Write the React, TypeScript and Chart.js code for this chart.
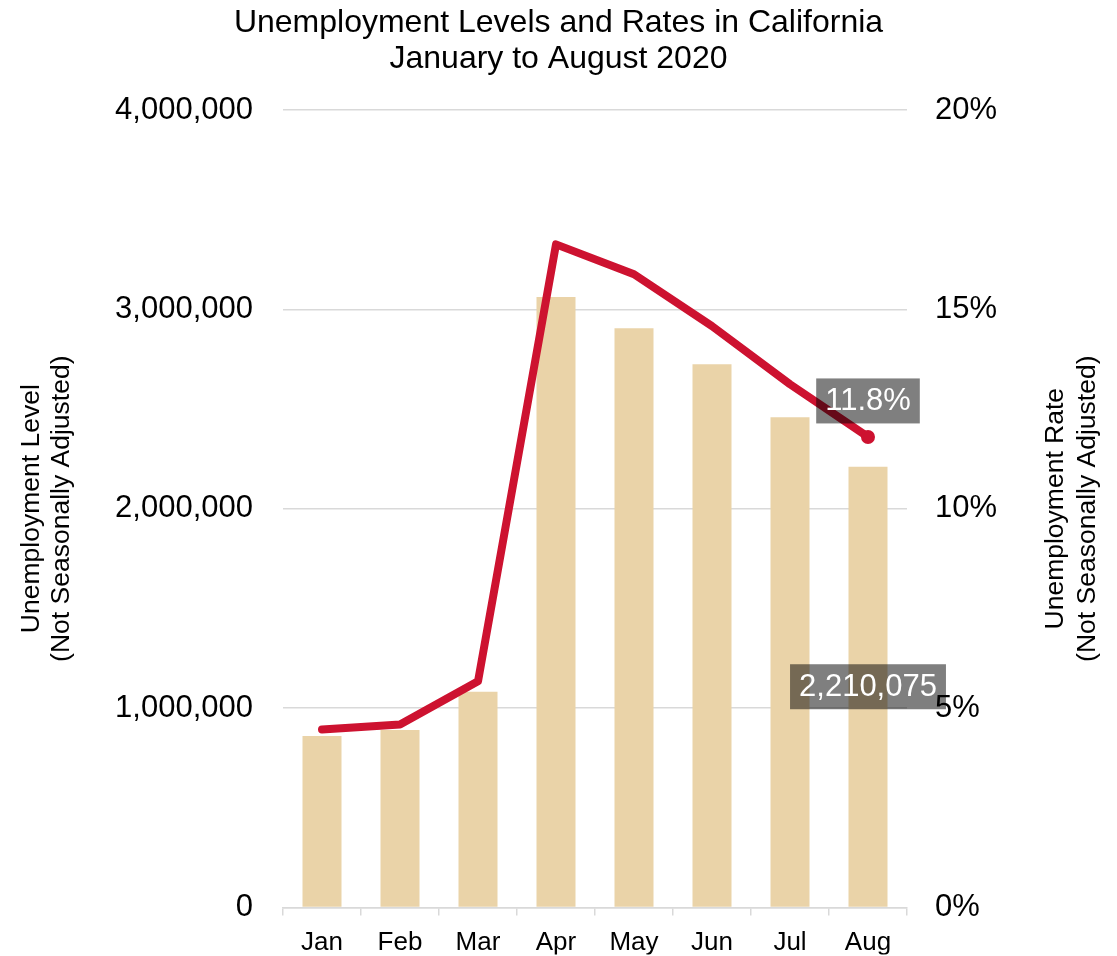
import React, { useEffect, useRef } from "react";
import { Chart, registerables } from "chart.js";

Chart.register(...registerables);

const titleLines = ["Unemployment Levels and Rates in California", "January to August 2020"];
const months = ["Jan", "Feb", "Mar", "Apr", "May", "Jun", "Jul", "Aug"];
const unemploymentLevel = [860000, 890000, 1082000, 3062000, 2905000, 2725000, 2459000, 2210075];
const unemploymentRate = [4.46, 4.59, 5.67, 16.63, 15.88, 14.58, 13.12, 11.8];
const leftAxisTitle = ["Unemployment Level", "(Not Seasonally Adjusted)"];
const rightAxisTitle = ["Unemployment Rate", "(Not Seasonally Adjusted)"];
const levelTicks = [0, 1000000, 2000000, 3000000, 4000000];
const rateTicks = [0, 5, 10, 15, 20];

const FONT = "'Liberation Sans', Arial, sans-serif";
const BAR_COLOR = "#EAD3A8";
const LINE_COLOR = "#CD1230";
const GRID_COLOR = "#D9D9D9";

const fmtLevel = (v: number) => Number(v).toLocaleString("en-US");

const decorPlugin = {
  id: "decor",
  afterDatasetsDraw(chart: any) {
    const ctx = chart.ctx;
    const area = chart.chartArea;
    const midY = (area.top + area.bottom) / 2;
    ctx.save();
    // axis titles
    ctx.fillStyle = "#000";
    ctx.font = `26.5px ${FONT}`;
    ctx.textAlign = "center";
    ctx.textBaseline = "middle";
    const drawRot = (text: string, x: number) => {
      ctx.save();
      ctx.translate(x, midY);
      ctx.rotate(-Math.PI / 2);
      ctx.fillText(text, 0, 0);
      ctx.restore();
    };
    drawRot(leftAxisTitle[0], 32);
    drawRot(leftAxisTitle[1], 62);
    drawRot(rightAxisTitle[0], 1056);
    drawRot(rightAxisTitle[1], 1088);

    // data labels for last point
    const last = months.length - 1;
    const lineMeta = chart.getDatasetMeta(1);
    const barMeta = chart.getDatasetMeta(0);
    ctx.font = `31px ${FONT}`;
    const drawBox = (text: string, cx: number, cy: number) => {
      const w = ctx.measureText(text).width + 18;
      const h = 45;
      ctx.fillStyle = "rgba(0,0,0,0.5)";
      ctx.fillRect(cx - w / 2, cy - h / 2, w, h);
      ctx.fillStyle = "#fff";
      ctx.fillText(text, cx, cy + 1);
    };
    const pt = lineMeta.data[last];
    drawBox(unemploymentRate[last].toFixed(1) + "%", pt.x, pt.y - 36);
    const bar = barMeta.data[last];
    drawBox(fmtLevel(unemploymentLevel[last]), bar.x, (bar.y + bar.base) / 2);
    ctx.restore();
  },
};

export default function App() {
  const ref = useRef<HTMLCanvasElement | null>(null);
  useEffect(() => {
    if (!ref.current) return;
    const chart = new Chart(ref.current, {
      data: {
        labels: months,
        datasets: [
          {
            type: "bar",
            label: "Unemployment Level",
            data: unemploymentLevel,
            backgroundColor: BAR_COLOR,
            yAxisID: "y",
            order: 2,
            categoryPercentage: 1,
            barPercentage: 0.5,
          },
          {
            type: "line",
            label: "Unemployment Rate",
            data: unemploymentRate,
            borderColor: LINE_COLOR,
            backgroundColor: LINE_COLOR,
            borderWidth: 8,
            borderJoinStyle: "round",
            borderCapStyle: "round",
            tension: 0,
            pointRadius: (c: any) => (c.dataIndex === months.length - 1 ? 6 : 0),
            pointBorderWidth: 2,
            pointBorderColor: LINE_COLOR,
            pointBackgroundColor: LINE_COLOR,
            yAxisID: "y1",
            order: 1,
          },
        ],
      } as any,
      options: {
        responsive: false,
        animation: false,
        events: [],
        layout: { padding: 0 },
        plugins: {
          legend: { display: false },
          tooltip: { enabled: false },
          title: {
            display: true,
            text: titleLines,
            color: "#000",
            font: { family: FONT, size: 32, weight: "normal", lineHeight: 36 / 32 },
            padding: { top: 5, bottom: 33 },
          },
        },
        scales: {
          x: {
            offset: true,
            grid: {
              offset: true,
              drawOnChartArea: false,
              drawTicks: true,
              tickLength: 8,
              color: GRID_COLOR,
              lineWidth: 1.5,
            },
            border: { display: true, color: GRID_COLOR, width: 1.5 },
            ticks: {
              color: "#000",
              font: { family: FONT, size: 26 },
              padding: 12,
              maxRotation: 0,
            },
            afterFit: (s: any) => {
              s.height = 47;
            },
          },
          y: {
            position: "left",
            min: 0,
            max: 4000000,
            afterBuildTicks: (s: any) => {
              s.ticks = levelTicks.map((v) => ({ value: v }));
            },
            grid: { color: GRID_COLOR, lineWidth: 1.5, drawTicks: false },
            border: { display: false },
            ticks: {
              color: "#000",
              font: { family: FONT, size: 31 },
              padding: 30,
              callback: (v: any) => fmtLevel(v),
            },
            afterFit: (s: any) => {
              s.width = 283;
            },
          },
          y1: {
            position: "right",
            min: 0,
            max: 20,
            afterBuildTicks: (s: any) => {
              s.ticks = rateTicks.map((v) => ({ value: v }));
            },
            grid: { display: false, drawTicks: false },
            border: { display: false },
            ticks: {
              color: "#000",
              font: { family: FONT, size: 31 },
              padding: 28,
              z: 1,
              callback: (v: any) => v + "%",
            },
            afterFit: (s: any) => {
              s.width = 210;
            },
          },
        },
      } as any,
      plugins: [decorPlugin],
    });
    return () => chart.destroy();
  }, []);
  return (
    <div style={{ position: "absolute", left: 0, top: 0, width: 1117, height: 956, background: "#fff" }}>
      <canvas ref={ref} width={1117} height={956} />
    </div>
  );
}
